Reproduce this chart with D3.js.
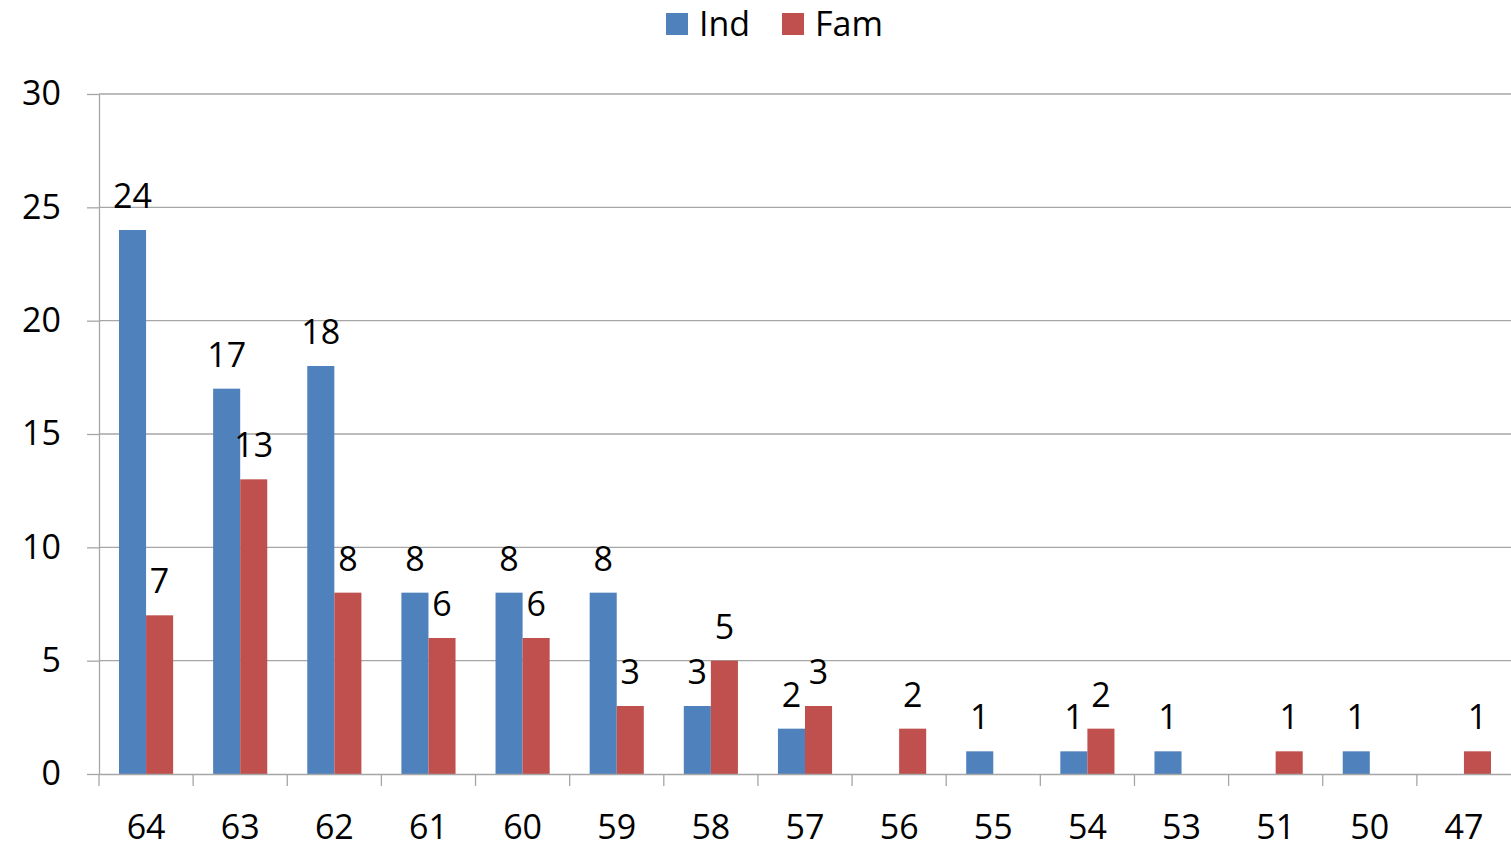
<!DOCTYPE html>
<html lang="en">
<meta charset="utf-8">
<head>
    <script src="https://d3js.org/d3.v7.min.js"></script>
</head>
<body style="margin:0;background:#fff">
<style>
    text { font-family: "Open Sans", sans-serif; fill: #000; }
    .grid line { stroke: #a6a6a6; stroke-width: 1.3; }
</style>
<svg width="1511" height="849"></svg>
</body>

<script>
// data
var ages = ["64", "63", "62", "61", "60", "59", "58", "57", "56", "55", "54", "53", "51", "50", "47"];
var ind = [24, 17, 18, 8, 8, 8, 3, 2, 0, 1, 1, 1, 0, 1, 0];
var fam = [7, 13, 8, 6, 6, 3, 5, 3, 2, 0, 2, 0, 1, 0, 1];
var seriesNames = ["Ind", "Fam"];
var colors = ["#4F81BD", "#C0504D"];
var yTicks = [0, 5, 10, 15, 20, 25, 30];

var svg = d3.select("svg");
var plotLeft = 99, plotRight = 1511, plotTop = 94, plotBottom = 774;

var x0 = d3.scaleBand().domain(ages).range([plotLeft, plotRight]);
var bw = x0.bandwidth();
var x1 = d3.scaleBand().domain(seriesNames).range([bw * 0.2125, bw * 0.7875]);
var y = d3.scaleLinear().domain([0, 30]).range([plotBottom, plotTop]);

// gridlines
svg.append("g")
    .attr("class", "grid")
    .selectAll("line")
    .data(yTicks.slice(1))
    .enter().append("line")
    .attr("x1", plotLeft)
    .attr("x2", plotRight)
    .attr("y1", function(d) { return y(d); })
    .attr("y2", function(d) { return y(d); });

// y axis
var yAxis = svg.append("g")
    .attr("transform", "translate(" + plotLeft + ",0)")
    .call(d3.axisLeft(y).tickValues(yTicks).tickSize(12).tickSizeOuter(0).tickPadding(26));
yAxis.selectAll("line, path").attr("stroke", "#a6a6a6").attr("stroke-width", 1.3);
yAxis.selectAll("text").attr("font-size", "34px").attr("font-family", "Open Sans");

// bars
var rows = ages.map(function(a, i) {
    return { age: a, values: [{ key: "Ind", v: ind[i] }, { key: "Fam", v: fam[i] }] };
});

var groups = svg.selectAll(".grp")
    .data(rows)
    .enter().append("g")
    .attr("class", "grp")
    .attr("transform", function(d) { return "translate(" + x0(d.age) + ",0)"; });

groups.selectAll("rect")
    .data(function(d) { return d.values.filter(function(e) { return e.v > 0; }); })
    .enter().append("rect")
    .attr("x", function(d) { return x1(d.key); })
    .attr("y", function(d) { return y(d.v); })
    .attr("width", x1.bandwidth())
    .attr("height", function(d) { return plotBottom - y(d.v); })
    .attr("fill", function(d) { return colors[seriesNames.indexOf(d.key)]; });

groups.selectAll(".lbl")
    .data(function(d) { return d.values.filter(function(e) { return e.v > 0; }); })
    .enter().append("text")
    .attr("class", "lbl")
    .attr("x", function(d) { return x1(d.key) + x1.bandwidth() / 2; })
    .attr("y", function(d) { return y(d.v) - 22; })
    .attr("text-anchor", "middle")
    .attr("font-size", "34px")
    .text(function(d) { return d.v; });

// x axis
var xAxis = svg.append("g")
    .attr("transform", "translate(0," + plotBottom + ")")
    .call(d3.axisBottom(x0).tickSize(0).tickSizeOuter(0).tickPadding(41));
xAxis.selectAll("path").attr("stroke", "#a6a6a6").attr("stroke-width", 1.3);
xAxis.selectAll("text").attr("font-size", "34px").attr("font-family", "Open Sans");

// x ticks between categories
svg.append("g")
    .selectAll("line")
    .data(ages)
    .enter().append("line")
    .attr("x1", function(d) { return x0(d); })
    .attr("x2", function(d) { return x0(d); })
    .attr("y1", plotBottom)
    .attr("y2", plotBottom + 12)
    .attr("stroke", "#a6a6a6")
    .attr("stroke-width", 1.3);

// legend
var legend = svg.append("g");
var legX = [666, 782];
seriesNames.forEach(function(s, i) {
    legend.append("rect")
        .attr("x", legX[i]).attr("y", 13)
        .attr("width", 22).attr("height", 22)
        .attr("fill", colors[i]);
    legend.append("text")
        .attr("x", legX[i] + 33).attr("y", 36)
        .attr("font-size", "34px")
        .text(s);
});
</script>
</html>
